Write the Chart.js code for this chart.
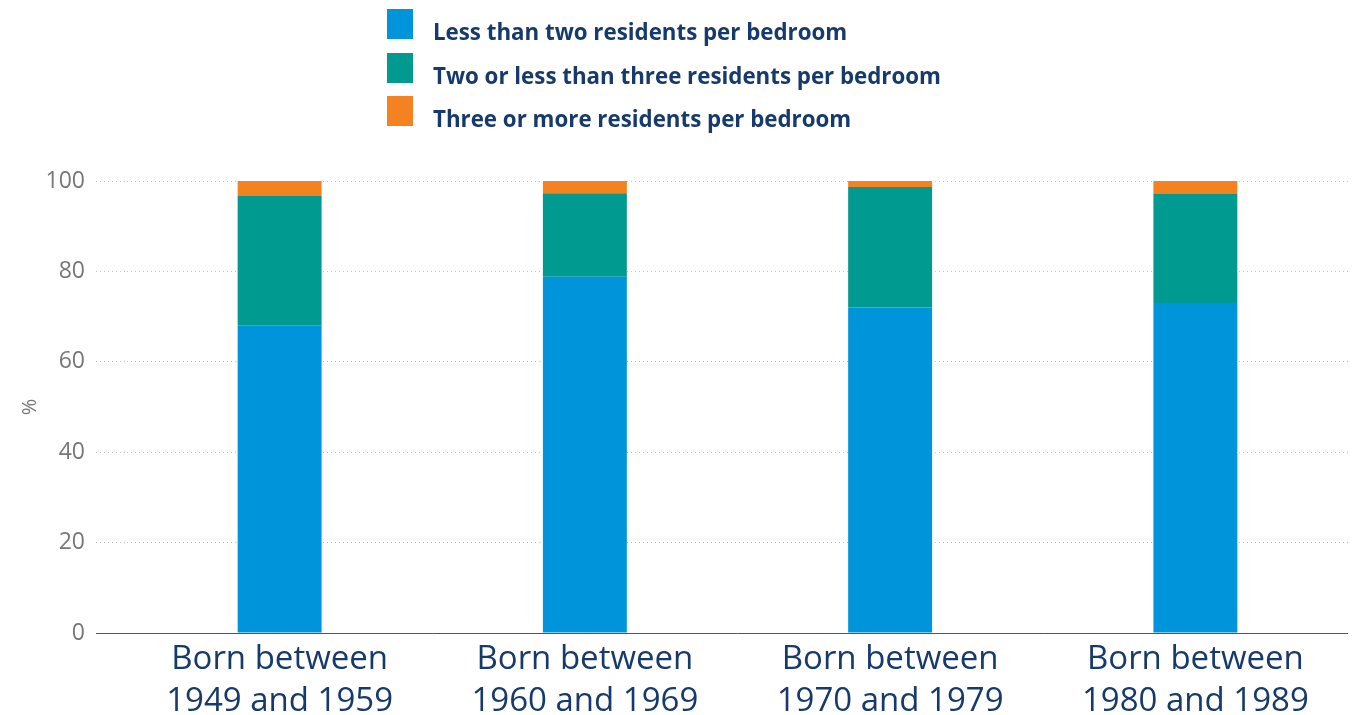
<!DOCTYPE html>
<html>
<head>
<meta charset="utf-8">
<script src="https://cdn.jsdelivr.net/npm/chart.js@4.4.0/dist/chart.umd.min.js"></script>
<style>
    html, body { margin: 0; padding: 0; background: #fff; }
    #wrap { position: relative; width: 1355px; height: 715px; }
    #legend { position: absolute; left: 387px; top: 9px; font-family: 'Open Sans', sans-serif; }
    .leg-item { display: flex; align-items: flex-start; height: 30px; margin-bottom: 13.5px; }
    .leg-box { width: 26px; height: 30px; margin-right: 20px; flex: none; }
    .leg-text { font-weight: bold; font-size: 22.3px; color: #163a6b; line-height: 26px; padding-top: 10px; white-space: nowrap; }
</style>
</head>
<body>
<div id="wrap">
    <div id="legend"></div>
    <canvas id="chart" width="1355" height="715"></canvas>
</div>
<script>
// Data
const categories = [
    ['Born between', '1949 and 1959'],
    ['Born between', '1960 and 1969'],
    ['Born between', '1970 and 1979'],
    ['Born between', '1980 and 1989']
];
const seriesNames = [
    'Less than two residents per bedroom',
    'Two or less than three residents per bedroom',
    'Three or more residents per bedroom'
];
const lessThanTwo = [68.1, 78.8, 72.0, 73.0];
const twoToThree = [28.6, 18.5, 26.7, 24.1];
const threeOrMore = [3.3, 2.7, 1.3, 2.9];
const yTicks = [0, 20, 40, 60, 80, 100];

const colors = ['#0095da', '#009a91', '#f58220'];
const navy = '#163a6b';
const gray = '#777777';

const isZero = c => c.tick && c.tick.value === 0;

const ctx = document.getElementById('chart');

const chart = new Chart(ctx, {
    type: 'bar',
    data: {
        labels: categories,
        datasets: [lessThanTwo, twoToThree, threeOrMore].map((values, i) => ({
            label: seriesNames[i],
            data: values,
            backgroundColor: colors[i],
            borderWidth: 0,
            categoryPercentage: 1,
            barPercentage: 0.275
        }))
    },
    options: {
        responsive: false,
        animation: false,
        layout: {
            padding: { top: 181, right: 7, left: 0, bottom: 0 }
        },
        plugins: {
            legend: { display: false },
            tooltip: { enabled: false }
        },
        scales: {
            x: {
                stacked: true,
                grid: { display: false, drawTicks: false },
                border: { display: false },
                afterFit: axis => {
                    axis.height = 82;
                },
                ticks: {
                    color: navy,
                    padding: 6,
                    font: { family: 'Open Sans', size: 33, lineHeight: 1.27 }
                }
            },
            y: {
                stacked: true,
                min: 0,
                max: 100,
                afterBuildTicks: axis => {
                    axis.ticks = yTicks.map(v => ({ value: v }));
                },
                afterFit: axis => {
                    axis.width = 127;
                },
                title: {
                    display: true,
                    text: '%',
                    color: gray,
                    font: { family: 'Open Sans', size: 20 },
                    padding: { top: 18, bottom: 0 }
                },
                grid: {
                    color: c => isZero(c) ? '#555555' : '#c4c4c4',
                    lineWidth: 1,
                    tickLength: 31,
                    tickColor: c => isZero(c) ? '#555555' : '#c4c4c4',
                    tickBorderDash: c => isZero(c) ? [] : [1, 3]
                },
                border: {
                    display: false,
                    dash: c => isZero(c) ? [] : [1, 3]
                },
                ticks: {
                    color: gray,
                    padding: 11,
                    font: { family: 'Open Sans', size: 23 }
                }
            }
        }
    }
});

// HTML legend stacked vertically
const legendEl = document.getElementById('legend');
chart.data.datasets.forEach(ds => {
    const item = document.createElement('div');
    item.className = 'leg-item';
    item.innerHTML = `<span class="leg-box" style="background:${ds.backgroundColor}"></span><span class="leg-text">${ds.label}</span>`;
    legendEl.appendChild(item);
});
</script>
</body>
</html>
